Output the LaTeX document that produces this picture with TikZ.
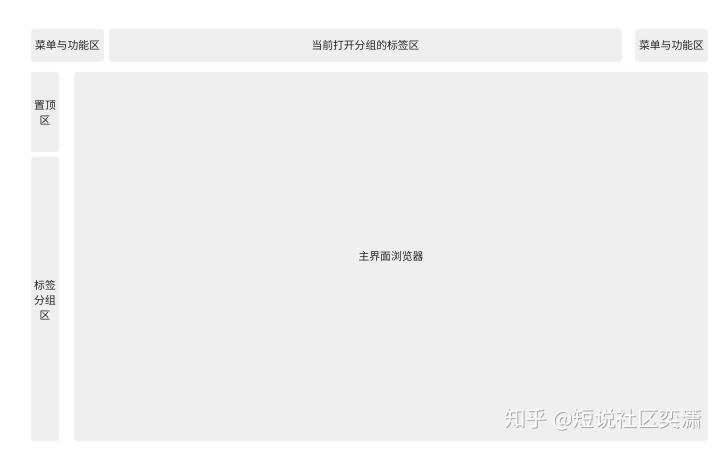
\documentclass[tikz,border=0pt]{standalone}
\usepackage{fontspec}
\setmainfont{Noto Sans CJK SC}
\newfontfamily\cjk{Noto Sans CJK SC}
\definecolor{boxgray}{HTML}{EFEFEF}
\definecolor{txtgray}{HTML}{262626}
\begin{document}
\begin{tikzpicture}[x=1pt,y=-1pt,
  panel/.style={fill=boxgray,draw=none,rounded corners=3pt},
  lbl/.style={text=txtgray,font=\cjk\fontsize{10.8}{15}\selectfont,align=center,inner sep=0pt}]
\useasboundingbox (0,0) rectangle (720,449);
\fill[white] (0,0) rectangle (720,449);
% panels
\filldraw[panel] (31,29) rectangle (104,62);
\filldraw[panel] (109,29) rectangle (622,62);
\filldraw[panel] (635,29) rectangle (708,62);
\filldraw[panel] (31,72) rectangle (59,152);
\filldraw[panel] (31,157) rectangle (59,441);
\filldraw[panel] (74,72) rectangle (708,441);
% labels
\node[lbl] (menuL) at (67.5,45.5) {菜单与功能区};
\node[lbl] (tabs) at (365.5,45.5) {当前打开分组的标签区};
\node[lbl] (menuR) at (671.5,45.5) {菜单与功能区};
\node[lbl] (pin) at (45,112.5) {置顶\\区};
\node[lbl] (group) at (45,300.5) {标签\\分组\\区};
\node[lbl] (main) at (391,256.5) {主界面浏览器};
% watermark
\node[text=gray!70,font=\cjk\fontsize{21.5}{22}\selectfont,inner sep=0pt] (wmshadow) at (604,420) {知乎 @短说社区奕潇};
\node[text=white,font=\cjk\fontsize{21.5}{22}\selectfont,inner sep=0pt] (wm) at (603,419) {知乎 @短说社区奕潇};
\end{tikzpicture}
\end{document}
